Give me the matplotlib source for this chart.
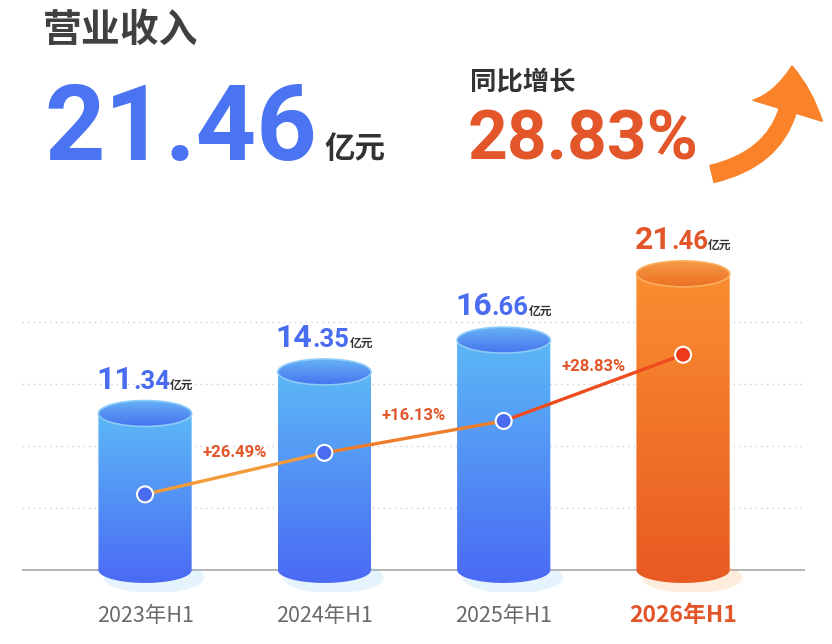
import numpy as np
import matplotlib.pyplot as plt
from matplotlib.patches import Ellipse, PathPatch, FancyArrowPatch
from matplotlib.path import Path
from matplotlib.collections import LineCollection
from matplotlib.transforms import offset_copy
from matplotlib.colors import to_rgb

plt.rcParams['font.family'] = ['Noto Sans CJK SC', 'DejaVu Sans']

periods = ['2023年H1', '2024年H1', '2025年H1', '2026年H1']
revenue = [11.34, 14.35, 16.66, 21.46]
growth = ['+26.49%', '+16.13%', '+28.83%']
headline_title = '营业收入'
headline_value = '21.46'
headline_unit = '亿元'
growth_title = '同比增长'
headline_growth = '28.83%'
line_offset = 5.86
grid_vals = [4.5, 9.0, 13.5, 18.0]

BLUE = '#4A6CF0'
ORANGE = '#E2562A'
NUM_FONT = ['Roboto', 'DejaVu Sans']

W, H = 832, 644
PX_PER_UNIT = 13.8
fig = plt.figure(figsize=(W / 100, H / 100), dpi=100)
fig.patch.set_facecolor('white')
ax = fig.add_axes([22 / W, 52 / H, 783 / W, 392 / H])
ax.set_facecolor('none')


def px(x, y):
    # pixel position -> figure fraction
    return x / W, 1 - y / H


def vgrad(top, bottom, n=200):
    t = np.linspace(0, 1, n)[:, None]
    c = (1 - t) * np.array(to_rgb(top)) + t * np.array(to_rgb(bottom))
    return np.repeat(c[:, None, :], 2, axis=1)


def cylinder(x, h, body, cap, rim, w=0.26, ry=0.94):
    # soft shadow under the base
    ax.add_patch(Ellipse((x + 0.05, -0.55), 2 * w * 1.08, 2 * ry * 1.2,
                         facecolor=rim, alpha=0.22, edgecolor='none', zorder=1.5))
    theta = np.linspace(np.pi, 2 * np.pi, 60)
    arc = np.column_stack([x + w * np.cos(theta), ry * np.sin(theta)])
    verts = [(x - w, h)] + arc.tolist() + [(x + w, h), (x - w, h)]
    codes = [Path.MOVETO] + [Path.LINETO] * (len(verts) - 2) + [Path.CLOSEPOLY]
    clip = PathPatch(Path(verts, codes), facecolor='none', edgecolor='none')
    ax.add_patch(clip)
    im = ax.imshow(vgrad(*body), extent=(x - w, x + w, -ry, h), aspect='auto',
                   origin='upper', interpolation='bilinear', zorder=2)
    im.set_clip_path(clip)
    top = Ellipse((x, h), 2 * w, 2 * ry, facecolor='none', edgecolor='none')
    ax.add_patch(top)
    im2 = ax.imshow(vgrad(*cap), extent=(x - w, x + w, h - ry, h + ry), aspect='auto',
                    origin='upper', interpolation='bilinear', zorder=3)
    im2.set_clip_path(top)
    ax.add_patch(Ellipse((x, h), 2 * w, 2 * ry, facecolor='none', edgecolor=rim,
                         lw=1.2, zorder=3.5))


def rich_label(x, y, parts, dy):
    r = fig.canvas.get_renderer()
    texts = [ax.text(x, y, s, ha='left', va='baseline', zorder=6, **kw) for s, kw in parts]
    widths = [t.get_window_extent(r).width for t in texts]
    cur = -sum(widths) / 2
    for t, w in zip(texts, widths):
        t.set_transform(offset_copy(ax.transData, fig=fig, x=cur, y=dy, units='dots'))
        cur += w


# grid + baseline
for g in grid_vals:
    ax.axhline(g, color='#cfcfcf', lw=1, ls=(0, (1, 3)), zorder=0.5)
ax.axhline(0, color='#a8a8a8', lw=1.2, zorder=1)

xs = np.arange(len(periods))
for i, v in enumerate(revenue):
    if i == len(revenue) - 1:
        cylinder(i, v, ('#FA8E30', '#E85A22'), ('#F59A45', '#EC7022'), '#FBB060')
        col = ORANGE
    else:
        cylinder(i, v, ('#5CB8F6', '#4A6AF4'), ('#66B2F6', '#4674EE'), '#8CCBF8')
        col = BLUE
    whole, dec = f'{v:.2f}'.split('.')
    rich_label(i, v, [
        (whole, dict(fontsize=23, fontweight='bold', color=col, family=NUM_FONT)),
        ('.' + dec, dict(fontsize=18.5, fontweight='bold', color=col, family=NUM_FONT)),
        (headline_unit, dict(fontsize=8.5, fontweight='bold', color='#333333')),
    ], dy=25)

# growth line
line_y = np.array(revenue) - line_offset
segs = [[(xs[i], line_y[i]), (xs[i + 1], line_y[i + 1])] for i in range(len(xs) - 1)]
ax.add_collection(LineCollection(segs, colors=['#F39A3A', '#EF7E2C', '#EE4C1E'],
                                 lw=2.4, zorder=4, capstyle='round'))
ax.scatter(xs, line_y, s=11.5 ** 2, c=[BLUE] * 3 + ['#EE3A1A'],
           edgecolors='white', linewidths=1.5, zorder=5)
for i, g in enumerate(growth):
    ax.annotate(g, ((xs[i] + xs[i + 1]) / 2, (line_y[i] + line_y[i + 1]) / 2),
                xytext=(0, 21), textcoords='offset pixels', ha='center', va='center',
                fontsize=12, fontweight='bold', color=ORANGE, family=NUM_FONT, zorder=6)

ax.set_xlim(-0.686, 3.68)
ax.set_ylim(-22 / PX_PER_UNIT, 370 / PX_PER_UNIT)
ax.set_xticks(xs)
ax.set_xticklabels(periods, fontsize=15.5, color='#6a6a6a')
last = ax.get_xticklabels()[-1]
last.set_color(ORANGE)
last.set_fontweight('bold')
last.set_fontsize(16.5)
ax.tick_params(axis='x', length=0, pad=9)
ax.tick_params(axis='y', left=False, labelleft=False)
for s in ax.spines.values():
    s.set_visible(False)

# header
fig.text(*px(43, 30), headline_title, fontsize=28, fontweight='bold', color='#404040',
         va='center', ha='left')
fig.text(*px(44, 160), headline_value, fontsize=76, fontweight='bold', color='#4A74F2',
         family=NUM_FONT, va='baseline', ha='left')
fig.text(*px(324, 158), headline_unit, fontsize=22, fontweight='bold', color='#333333',
         va='baseline', ha='left')
fig.text(*px(470, 82), growth_title, fontsize=19, fontweight='bold', color='#333333',
         va='center', ha='left')
fig.text(*px(468, 160), headline_growth, fontsize=50, fontweight='bold', color=ORANGE,
         family=NUM_FONT, va='baseline', ha='left')

arrow = FancyArrowPatch(px(712, 174), px(792, 66), transform=fig.transFigure,
                        arrowstyle='simple,head_length=1.8,head_width=2.9,tail_width=0.7',
                        mutation_scale=18, connectionstyle='arc3,rad=0.42',
                        color='#FA8228', shrinkA=0, shrinkB=0)
fig.add_artist(arrow)

fig.savefig('out.png', dpi=100)
